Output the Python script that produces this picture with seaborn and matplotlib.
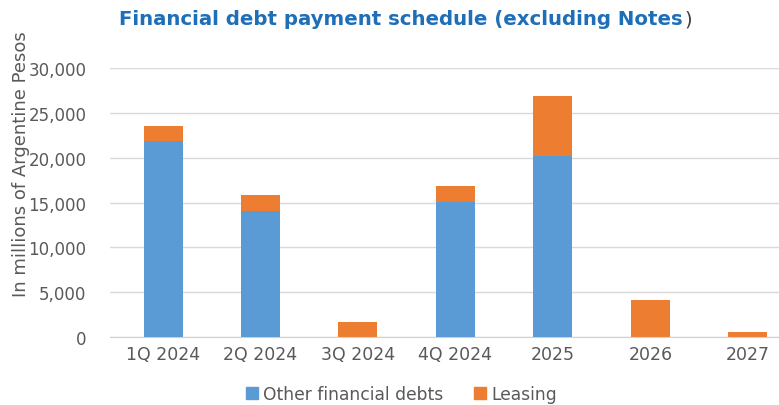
import pandas as pd
import matplotlib.pyplot as plt
import seaborn as sns
from matplotlib.patches import Patch

# Data (millions of Argentine Pesos)
periods = ['1Q 2024', '2Q 2024', '3Q 2024', '4Q 2024', '2025', '2026', '2027']
other_debts = [21900, 14100, 0, 15100, 20200, 0, 0]
leasing = [1600, 1700, 1700, 1700, 6700, 4100, 600]

blue = '#5b9bd5'
orange = '#ed7d31'

df = pd.DataFrame({'period': periods, 'other': other_debts, 'leasing': leasing})
df['total'] = df['other'] + df['leasing']

sns.set_style('white')
plt.rcParams['font.family'] = ['DejaVu Sans']

fig = plt.figure(figsize=(7.79, 4.06), dpi=100)
ax = fig.add_axes([0.1412, 0.1675, 0.8588, 0.6625])

# stacked bars: total (orange) behind, other debts (blue) in front
sns.barplot(data=df, x='period', y='total', color=orange, width=0.4,
            saturation=1, linewidth=0, ax=ax, zorder=2)
sns.barplot(data=df, x='period', y='other', color=blue, width=0.4,
            saturation=1, linewidth=0, ax=ax, zorder=3)

ax.set_ylim(0, 30000)
ax.set_xlim(-0.544, 6.32)
ax.set_yticks(range(0, 30001, 5000))
ax.set_yticklabels([f'{v:,}' for v in range(0, 30001, 5000)])
ax.yaxis.grid(True, color='#d9d9d9', linewidth=1)
ax.set_axisbelow(True)
for side in ['top', 'right', 'left']:
    ax.spines[side].set_visible(False)
ax.spines['bottom'].set_color('#d0d0d0')
ax.tick_params(axis='y', length=0, labelsize=12, labelcolor='#595959', pad=17)
ax.tick_params(axis='x', length=0, labelsize=12.5, labelcolor='#595959', pad=6)
ax.set_xlabel('')
ax.set_ylabel('In millions of Argentine Pesos', fontsize=13, color='#595959')
ax.yaxis.set_label_coords(-0.12, 0.645)

title = fig.text(0.515, 0.951, 'Financial debt payment schedule (excluding Notes',
                 fontsize=14.2, fontweight='bold', color='#1f6fb8',
                 ha='center', va='center')
fig.canvas.draw()
bb = title.get_window_extent().transformed(fig.transFigure.inverted())
fig.text(bb.x1 + 0.002, 0.951, ')', fontsize=14.2, color='#404040',
         ha='left', va='center')

handles = [Patch(color=blue, label='Other financial debts'),
           Patch(color=orange, label='Leasing')]
fig.legend(handles=handles, loc='center', bbox_to_anchor=(0.515, 0.027), ncol=2,
           frameon=False, fontsize=12.3, handlelength=0.7, handleheight=0.7,
           handletextpad=0.3, columnspacing=1.8, labelcolor='#595959')

plt.savefig('out.png', dpi=100)
